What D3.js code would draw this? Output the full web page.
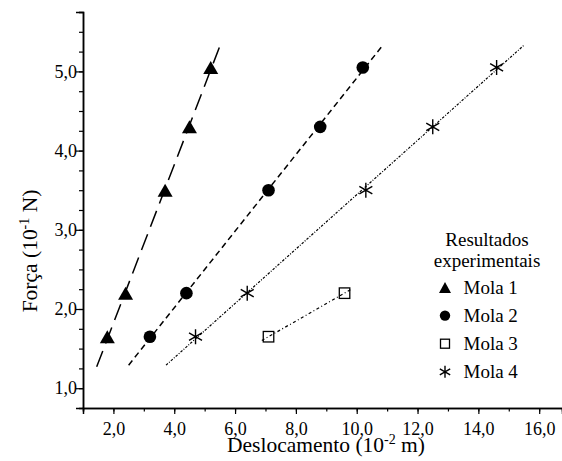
<!DOCTYPE html>
<html>
<head>
<meta charset="utf-8">
<script src="https://cdn.jsdelivr.net/npm/d3@7"></script>
<style>
  body { margin: 0; background: #fff; }
</style>
</head>
<body>
<div class="chart"></div>
<script>
// forces (10^-1 N), same for every spring
let forca = [1.65, 2.2, 3.5, 4.3, 5.05]
// displacements (10^-2 m)
let mola1 = [1.8, 2.4, 3.7, 4.5, 5.2]
let mola2 = [3.2, 4.4, 7.1, 8.8, 10.2]
let mola3 = [7.1, 9.6]
let mola4 = [4.7, 6.4, 10.3, 12.5, 14.6]
// x extent of each fitted line
let fitRange1 = [1.45, 5.54]
let fitRange2 = [2.5, 10.84]
let fitRange3 = [6.88, 9.8]
let fitRange4 = [3.73, 15.49]
let legendNames = ["Mola 1", "Mola 2", "Mola 3", "Mola 4"]
let xTicks = [2, 4, 6, 8, 10, 12, 14, 16]
let yTicks = [1, 2, 3, 4, 5]

const width = 562, height = 461
const margin = {top: 12, right: 0, bottom: 53, left: 83}
const serif = "'Liberation Serif', 'Times New Roman', serif"

let svg = d3.select(".chart").append("svg")
  .attr("width", width)
  .attr("height", height)
  .style("font-family", serif)

let x = d3.scaleLinear().domain([1, 16.75]).range([margin.left, width - margin.right])
let y = d3.scaleLinear().domain([0.75, 5.75]).range([height - margin.bottom, margin.top])

let comma = d => d3.format(".1f")(d).replace(".", ",")

// minor ticks first, then major with labels
svg.append("g")
  .attr("transform", "translate(0," + y(0.75) + ")")
  .call(d3.axisBottom(x).tickValues(d3.range(1, 17, 1)).tickSize(3.5).tickFormat(""))
svg.append("g")
  .attr("transform", "translate(0," + y(0.75) + ")")
  .call(d3.axisBottom(x).tickValues(xTicks).tickSize(6).tickPadding(8.5).tickFormat(comma))
svg.append("g")
  .attr("transform", "translate(" + x(1) + ",0)")
  .call(d3.axisLeft(y).tickValues(d3.range(1, 5.8, 0.25)).tickSize(4).tickFormat(""))
svg.append("g")
  .attr("transform", "translate(" + x(1) + ",0)")
  .call(d3.axisLeft(y).tickValues(yTicks).tickSize(7).tickPadding(-1).tickFormat(comma))

svg.selectAll("g").attr("font-family", null).attr("font-size", null)
svg.selectAll(".tick text").style("font-family", serif).style("font-size", "18px").attr("fill", "#000")
svg.selectAll(".domain").attr("stroke-width", 1.5).attr("stroke", "#000")
svg.selectAll(".tick line").attr("stroke-width", 1.2).attr("stroke", "#000")

// axis titles
let xl = svg.append("text")
  .attr("x", 326).attr("y", 452)
  .attr("text-anchor", "middle")
  .style("font-family", serif)
  .style("font-size", "21.5px")
xl.append("tspan").text("Deslocamento (10")
xl.append("tspan").attr("dy", -8).style("font-size", "14px").text("-2")
xl.append("tspan").attr("dy", 8).text(" m)")

let yl = svg.append("text")
  .attr("transform", "translate(37,251) rotate(-90)")
  .attr("text-anchor", "middle")
  .style("font-family", serif)
  .style("font-size", "21.5px")
yl.append("tspan").text("Força (10")
yl.append("tspan").attr("dy", -8).style("font-size", "14px").text("-1")
yl.append("tspan").attr("dy", 8).text(" N)")

// least squares fit
function fit(xs, ys) {
  let mx = d3.mean(xs), my = d3.mean(ys)
  let sxy = d3.sum(xs, (v, i) => (v - mx) * (ys[i] - my))
  let sxx = d3.sum(xs, v => (v - mx) * (v - mx))
  let b = sxy / sxx
  return {b: b, a: my - b * mx}
}

let line = d3.line().x(d => x(d[0])).y(d => y(d[1]))

function drawFit(xs, range, dash, sw) {
  let f = fit(xs, forca.slice(0, xs.length))
  let pts = range.map(v => [v, f.a + f.b * v])
  svg.append("path")
    .datum(pts)
    .attr("fill", "none")
    .attr("stroke", "#000")
    .attr("stroke-width", sw)
    .attr("stroke-dasharray", dash)
    .attr("d", line)
}

drawFit(mola1, fitRange1, "17,8", 1.5)
drawFit(mola2, fitRange2, "6,4", 1.5)
drawFit(mola3, fitRange3, "3,2.5,1,2.5", 1.2)
drawFit(mola4, fitRange4, "2.5,1.5,1,1.5", 1.2)

// markers
function triangle(g, w, h) {
  g.append("path").attr("d", "M0," + (-h / 2) + "L" + (w / 2) + "," + (h / 2) + "L" + (-w / 2) + "," + (h / 2) + "Z")
    .attr("fill", "#000")
}
function circle(g, r) {
  g.append("circle").attr("r", r).attr("fill", "#000")
}
function square(g, s) {
  g.append("rect").attr("x", -s / 2).attr("y", -s / 2).attr("width", s).attr("height", s)
    .attr("fill", "none").attr("stroke", "#000").attr("stroke-width", 1.3)
}
function star(g, r) {
  let p = ""
  for (let k = 0; k < 3; k++) {
    let a = Math.PI / 2 + k * Math.PI / 3
    p += "M" + (r * Math.cos(a)) + "," + (r * Math.sin(a)) + "L" + (-r * Math.cos(a)) + "," + (-r * Math.sin(a))
  }
  g.append("path").attr("d", p).attr("stroke", "#000").attr("stroke-width", 1.4).attr("fill", "none")
}

function drawPoints(xs, fn) {
  xs.forEach((v, i) => {
    let g = svg.append("g").attr("transform", "translate(" + x(v) + "," + y(forca[i]) + ")")
    fn(g)
  })
}

drawPoints(mola1, g => triangle(g, 15, 13))
drawPoints(mola2, g => circle(g, 6.3))
drawPoints(mola3, g => square(g, 10.5))
drawPoints(mola4, g => star(g, 7.5))

// legend
let leg = svg.append("g")
leg.append("text").attr("x", 487).attr("y", 246).attr("text-anchor", "middle")
  .style("font-family", serif).style("font-size", "19px").text("Resultados")
leg.append("text").attr("x", 487).attr("y", 267).attr("text-anchor", "middle")
  .style("font-family", serif).style("font-size", "19px").text("experimentais")

let markers = [g => triangle(g, 12, 11), g => circle(g, 5.2), g => square(g, 9), g => star(g, 6)]
legendNames.forEach((name, i) => {
  let cy = 287.5 + i * 28.1
  let g = leg.append("g").attr("transform", "translate(445," + cy + ")")
  markers[i](g)
  leg.append("text").attr("x", 463.5).attr("y", cy + 6)
    .style("font-family", serif).style("font-size", "19px").text(name)
})
</script>
</body>
</html>
